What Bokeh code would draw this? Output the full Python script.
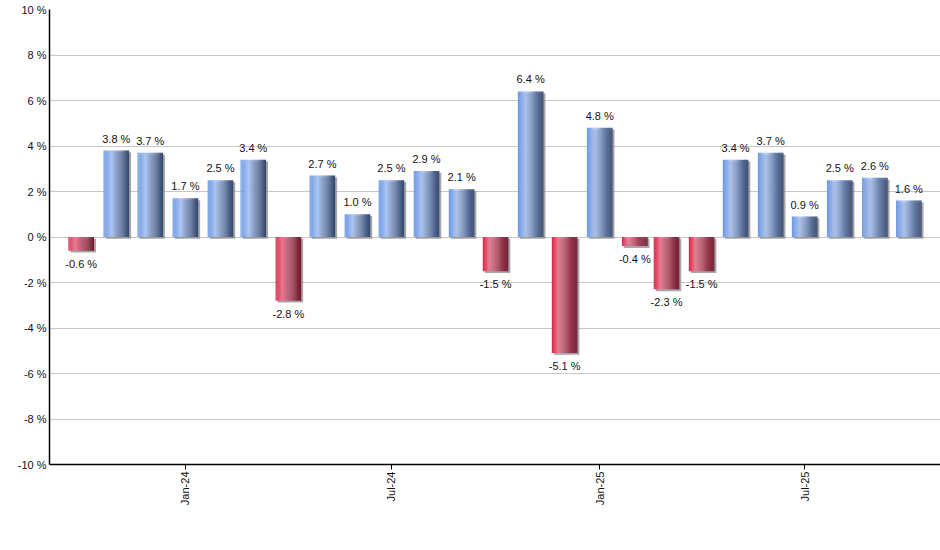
import pandas as pd
from bokeh.plotting import figure
from bokeh.models import ColumnDataSource, FixedTicker, Range1d
from bokeh.transform import dodge
from bokeh.core.properties import value
from bokeh.embed import file_html
from bokeh.resources import INLINE

# ---------------- data ----------------
months = ["2023-10", "2023-11", "2023-12", "2024-01", "2024-02", "2024-03", "2024-04",
          "2024-05", "2024-06", "2024-07", "2024-08", "2024-09", "2024-10", "2024-11",
          "2024-12", "2025-01", "2025-02", "2025-03", "2025-04", "2025-05", "2025-06",
          "2025-07", "2025-08", "2025-09", "2025-10"]
returns = [-0.6, 3.8, 3.7, 1.7, 2.5, 3.4, -2.8, 2.7, 1.0, 2.5, 2.9, 2.1, -1.5, 6.4,
           -5.1, 4.8, -0.4, -2.3, -1.5, 3.4, 3.7, 0.9, 2.5, 2.6, 1.6]
y_ticks = [-10, -8, -6, -4, -2, 0, 2, 4, 6, 8, 10]
y_tick_labels = ["-10 %", "-8 %", "-6 %", "-4 %", "-2 %", "0 %", "2 %", "4 %", "6 %", "8 %", "10 %"]
x_tick_dates = ["2024-01-01", "2024-07-01", "2025-01-01", "2025-07-01"]
x_tick_labels = ["Jan-24", "Jul-24", "Jan-25", "Jul-25"]

# ---------------- styling helpers ----------------
DAY = 86400000.0
BAR_W = 22.5 * DAY
N_STRIPS = 24

blue_stops = [(0.0, (108, 152, 230)), (0.32, (172, 198, 243)), (1.0, (50, 70, 108))]
red_stops = [(0.0, (218, 38, 72)), (0.26, (233, 122, 145)), (1.0, (108, 24, 44))]


def grad(stops, t):
    for (t0, c0), (t1, c1) in zip(stops[:-1], stops[1:]):
        if t <= t1:
            f = (t - t0) / (t1 - t0) if t1 > t0 else 0
            c = [round(a + (b - a) * f) for a, b in zip(c0, c1)]
            return "#%02x%02x%02x" % tuple(c)
    return "#%02x%02x%02x" % stops[-1][1]


dates = pd.to_datetime([m + "-01" for m in months])
data = dict(
    x=dates,
    v=returns,
    zero=[0.0] * len(returns),
    label=[f"{r:.1f} %" for r in returns],
    yoff=[-12 if r >= 0 else 13 for r in returns],
)
for i in range(N_STRIPS):
    t = (i + 0.5) / N_STRIPS
    data[f"c{i}"] = [grad(blue_stops, t) if r >= 0 else grad(red_stops, t) for r in returns]
src = ColumnDataSource(data)

x_start = pd.Timestamp("2023-09-03")
x_end = pd.Timestamp("2025-10-29")

p = figure(width=940, height=509, output_backend="svg", toolbar_location=None,
           x_axis_type="datetime",
           x_range=Range1d(x_start, x_end), y_range=Range1d(-10, 10),
           min_border_left=49, min_border_right=0, min_border_top=9, min_border_bottom=45)
p.outline_line_color = None
p.background_fill_color = "white"
p.border_fill_color = "white"

# grid
p.xgrid.grid_line_color = None
p.ygrid.grid_line_color = "#c6c6c6"
p.ygrid.grid_line_width = 1

# shadow
p.vbar(x=dodge("x", 1.8 * DAY), width=BAR_W, top=dodge("v", -0.08), bottom=dodge("zero", -0.08),
       source=src, fill_color="#8a8a8a", fill_alpha=0.75, line_color=None)

# gradient strips
sw = BAR_W / N_STRIPS
for i in range(N_STRIPS):
    off = -BAR_W / 2 + (i + 0.5) * sw
    p.vbar(x=dodge("x", off), width=sw * 1.15, top="v", bottom="zero", source=src,
           fill_color=f"c{i}", line_color=None)

# value labels
p.text(x="x", y="v", text="label", y_offset="yoff", source=src,
       text_align="center", text_baseline="middle",
       text_font=value("Liberation Sans"), text_font_size="11px", text_color="#111111")

# y axis
p.yaxis.ticker = FixedTicker(ticks=y_ticks)
p.yaxis.major_label_overrides = {t: l for t, l in zip(y_ticks, y_tick_labels)}
p.yaxis.major_tick_out = 0
p.yaxis.major_tick_in = 0
p.yaxis.minor_tick_out = 0
p.yaxis.minor_tick_in = 0
p.yaxis.major_label_standoff = 3
p.yaxis.axis_line_color = "black"
p.yaxis.axis_line_width = 1.5
p.yaxis.major_label_text_font = "Liberation Sans"
p.yaxis.major_label_text_font_size = "11px"
p.yaxis.major_label_text_color = "#111111"

# x axis
x_ticks_ms = [pd.Timestamp(d).value / 1e6 for d in x_tick_dates]
p.xaxis.ticker = FixedTicker(ticks=x_ticks_ms)
p.xaxis.major_label_overrides = {t: l for t, l in zip(x_ticks_ms, x_tick_labels)}
p.xaxis.major_label_orientation = 3.14159265 / 2
p.xaxis.major_tick_out = 5
p.xaxis.major_tick_in = 0
p.xaxis.minor_tick_out = 0
p.xaxis.minor_tick_in = 0
p.xaxis.major_tick_line_color = "black"
p.xaxis.major_label_standoff = 2
p.xaxis.axis_line_color = "black"
p.xaxis.axis_line_width = 1.5
p.xaxis.major_label_text_font = "Liberation Sans"
p.xaxis.major_label_text_font_size = "11px"
p.xaxis.major_label_text_color = "#111111"

open("out.html", "w").write(file_html(p, INLINE))
